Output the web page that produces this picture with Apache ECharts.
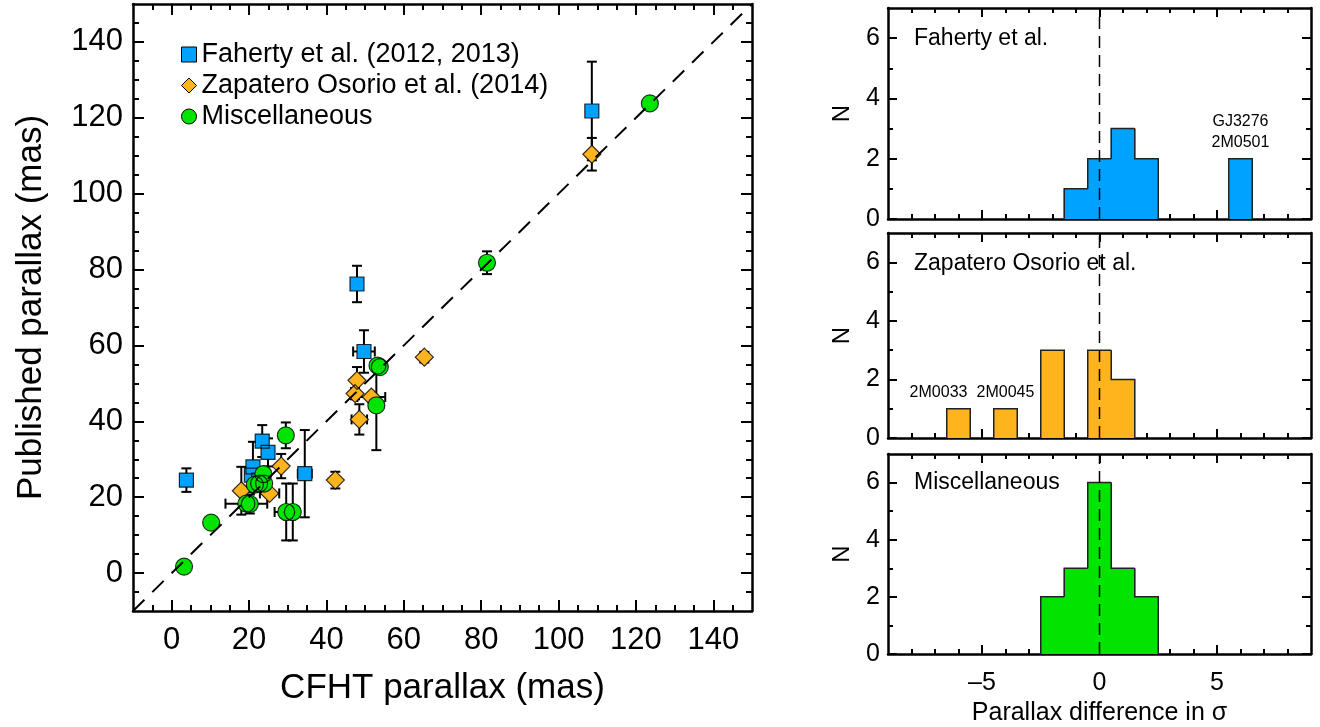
<!DOCTYPE html>
<html>
<head>
<meta charset="utf-8">
<title>Parallax comparison</title>
<script src="https://cdn.jsdelivr.net/npm/echarts@6/dist/echarts.min.js"></script>
<style>
  html, body { margin: 0; padding: 0; background: #fff; }
  #chart { width: 1320px; height: 727px; }
</style>
</head>
<body>
<div id="chart"></div>
<script>
// ---- Scatter data: CFHT vs published parallaxes (mas) ----
const fahertyCFHT    = [3.8, 23.4, 24.9, 21.0, 20.6, 22.5, 34.4, 47.9, 49.7, 108.6];
const fahertyPub     = [24.5, 34.8, 31.8, 28.0, 25.8, 24.5, 26.2, 76.2, 58.4, 121.8];
const fahertyCFHTErr = [0, 0, 0, 0, 0, 0, 1.8, 0, 2.8, 0];
const fahertyPubErr  = [3.1, 4.2, 3.7, 6.6, 3.0, 2.0, 11.5, 4.8, 5.6, 13.0];

const zapCFHT    = [108.6, 65.3, 47.9, 47.4, 51.6, 48.5, 42.3, 28.3, 18.0, 25.3];
const zapPub     = [110.4, 56.9, 50.8, 47.3, 46.4, 40.5, 24.5, 28.2, 21.7, 21.0];
const zapCFHTErr = [0, 0, 0, 0, 3.6, 2.0, 0, 0, 0, 2.5];
const zapPubErr  = [4.3, 1.4, 3.5, 1.5, 0, 4.0, 2.2, 3.2, 6.3, 0];

const miscCFHT    = [3.2, 10.2, 19.3, 20.2, 21.5, 22.6, 23.9, 23.7, 29.5, 29.6, 31.3, 52.9, 53.2, 53.8, 81.5, 123.6];
const miscPub     = [1.7, 13.3, 18.3, 18.2, 23.3, 23.6, 23.6, 26.1, 36.3, 16.1, 16.1, 44.2, 54.7, 54.3, 81.8, 123.8];
const miscCFHTErr = [0, 0, 5.4, 0, 0, 0, 0, 0, 0, 3.0, 0, 0, 0, 0, 0, 0];
const miscPubErr  = [0, 0, 0, 2.5, 0, 0, 0, 0, 3.4, 7.5, 7.5, 11.8, 0, 0, 3.0, 0];

// ---- Histograms of parallax difference (sigma), bins of width 1 ----
const fahertyBins   = [-1, 0, 1, 2, 6];
const fahertyCounts = [1, 2, 3, 2, 2];
const zapBins       = [-6, -4, -2, 0, 1];
const zapCounts     = [1, 1, 3, 3, 2];
const miscBins      = [-2, -1, 0, 1, 2];
const miscCounts    = [2, 3, 6, 3, 2];

// Object names written above outlying bins
const fahertyNotes = [{ x: 6, n: 2, text: 'GJ3276\n2M0501' }];
const zapNotes     = [{ x: -6.85, n: 1, text: '2M0033' }, { x: -4, n: 1, text: '2M0045' }];
const miscNotes    = [];

// ---- Tick values ----
const scatterMajorTicks = [0, 20, 40, 60, 80, 100, 120, 140];
const scatterMinorTicks = [-5, 5, 10, 15, 25, 30, 35, 45, 50, 55, 65, 70, 75, 85, 90, 95, 105, 110, 115, 125, 130, 135, 145];
const histXMajorTicks = [-5, 0, 5];
const histXMinorTicks = [-8, -7, -6, -4, -3, -2, -1, 1, 2, 3, 4, 6, 7, 8];
const histYMajorTicks = [0, 2, 4, 6];
const histYMinorTicks = [1, 3, 5];

const FONT = '"Liberation Sans", Arial, Helvetica, sans-serif';
const BLUE = '#00a2ff', ORANGE = '#ffb31c', GREEN = '#00e400';

const xAxes = [], yAxes = [];

// Four axes per side pair: labelled major ticks, minor ticks, and the mirrored pair on the opposite side.
function addAxes(list, dim, gridIndex, o) {
  const sides = dim === 'x' ? ['bottom', 'top'] : ['left', 'right'];
  const base = { type: 'value', gridIndex, min: o.min, max: o.max, splitLine: { show: false }, silent: true };
  const tickStyle = { color: '#000', width: 2 };
  const first = list.length;
  sides.forEach((pos, k) => {
    list.push(Object.assign({}, base, {
      position: pos,
      axisLine: { show: true, onZero: false, lineStyle: { color: '#000', width: 2.5 } },
      axisTick: { show: true, inside: true, length: o.majorLen, customValues: o.majors, lineStyle: tickStyle },
      axisLabel: k === 0 && o.labels ? {
        show: true, customValues: o.majors, margin: o.margin, color: '#000',
        fontSize: o.fontSize, fontFamily: FONT,
        formatter: v => (v < 0 ? '\u2013' + Math.abs(v) : String(v))
      } : { show: false },
      name: k === 0 ? o.name : '',
      nameLocation: 'middle',
      nameGap: o.nameGap,
      nameTextStyle: { color: '#000', fontSize: o.nameSize, fontFamily: FONT }
    }));
    list.push(Object.assign({}, base, {
      position: pos,
      axisLine: { show: false, onZero: false },
      axisTick: { show: true, inside: true, length: o.minorLen, customValues: o.minors, lineStyle: tickStyle },
      axisLabel: { show: false }
    }));
  });
  return first;
}

const grids = [
  { left: 133, top: 4, width: 619, height: 607 },
  { left: 888, top: 8, width: 423, height: 211 },
  { left: 888, top: 233, width: 423, height: 205 },
  { left: 888, top: 454, width: 423, height: 203 }
];

const sx = addAxes(xAxes, 'x', 0, {
  min: -10, max: 150, majors: scatterMajorTicks, minors: scatterMinorTicks,
  majorLen: 11, minorLen: 6, labels: true, margin: 14, fontSize: 31,
  name: 'CFHT parallax (mas)', nameGap: 60, nameSize: 35
});
const sy = addAxes(yAxes, 'y', 0, {
  min: -10, max: 150, majors: scatterMajorTicks, minors: scatterMinorTicks,
  majorLen: 11, minorLen: 6, labels: true, margin: 10, fontSize: 31,
  name: 'Published parallax (mas)', nameGap: 84, nameSize: 35
});

const hx = [], hy = [];
for (let p = 0; p < 3; p++) {
  const last = p === 2;
  hx.push(addAxes(xAxes, 'x', p + 1, {
    min: -9, max: 9, majors: histXMajorTicks, minors: histXMinorTicks,
    majorLen: 9, minorLen: 5, labels: last, margin: 17, fontSize: 25,
    name: last ? 'Parallax difference in \u03c3' : '', nameGap: 47, nameSize: 25
  }));
  hy.push(addAxes(yAxes, 'y', p + 1, {
    min: 0, max: 7, majors: histYMajorTicks, minors: histYMinorTicks,
    majorLen: 9, minorLen: 5, labels: true, margin: 8, fontSize: 25,
    name: 'N', nameGap: 34, nameSize: 24
  }));
}

function zip(a, b, c, d) { return a.map((v, i) => [v, b[i], c[i], d[i]]); }

function errorBarSeries(data) {
  return {
    type: 'custom', xAxisIndex: sx, yAxisIndex: sy, silent: true,
    renderItem: (params, api) => {
      const x = api.value(0), y = api.value(1), ex = api.value(2), ey = api.value(3);
      const children = [];
      const style = { stroke: '#000', lineWidth: 2 };
      const cap = 5;
      if (ey > 0) {
        const a = api.coord([x, y - ey]), b = api.coord([x, y + ey]);
        children.push({ type: 'line', shape: { x1: a[0], y1: a[1], x2: b[0], y2: b[1] }, style });
        children.push({ type: 'line', shape: { x1: a[0] - cap, y1: a[1], x2: a[0] + cap, y2: a[1] }, style });
        children.push({ type: 'line', shape: { x1: b[0] - cap, y1: b[1], x2: b[0] + cap, y2: b[1] }, style });
      }
      if (ex > 0) {
        const a = api.coord([x - ex, y]), b = api.coord([x + ex, y]);
        children.push({ type: 'line', shape: { x1: a[0], y1: a[1], x2: b[0], y2: b[1] }, style });
        children.push({ type: 'line', shape: { x1: a[0], y1: a[1] - cap, x2: a[0], y2: a[1] + cap }, style });
        children.push({ type: 'line', shape: { x1: b[0], y1: b[1] - cap, x2: b[0], y2: b[1] + cap }, style });
      }
      return { type: 'group', children };
    },
    data
  };
}

// Filled markers first, outlines afterwards, so overlapping outlines stay visible
function markerSeries(name, xs, ys, symbol, size, color) {
  const pts = xs.map((v, i) => [v, ys[i]]);
  return [
    { name, type: 'scatter', xAxisIndex: sx, yAxisIndex: sy, symbol, symbolSize: size, silent: true,
      itemStyle: { color, borderWidth: 0, opacity: 1 }, data: pts },
    { type: 'scatter', xAxisIndex: sx, yAxisIndex: sy, symbol, symbolSize: size, silent: true,
      itemStyle: { color: 'rgba(0,0,0,0)', borderColor: '#000', borderWidth: 1.2 }, data: pts }
  ];
}

function histSeries(p, bins, counts, color, notes) {
  const xi = hx[p], yi = hy[p];
  const outline = bins.map((c, i) => {
    const left = (i > 0 && bins[i - 1] === c - 1) ? counts[i - 1] : 0;
    const hasRight = (i < bins.length - 1 && bins[i + 1] === c + 1) ? 1 : 0;
    return [c, counts[i], left, hasRight];
  });
  return [
    { type: 'custom', xAxisIndex: xi, yAxisIndex: yi, silent: true,
      renderItem: (params, api) => {
        const c = api.value(0), n = api.value(1);
        const a = api.coord([c - 0.5, n]), b = api.coord([c + 0.5, 0]);
        // widen slightly so neighbouring bins join without a seam
        return { type: 'rect', shape: { x: a[0] - 0.6, y: a[1], width: b[0] - a[0] + 1.2, height: b[1] - a[1] },
                 style: { fill: color } };
      },
      data: bins.map((c, i) => [c, counts[i]]) },
    { type: 'custom', xAxisIndex: xi, yAxisIndex: yi, silent: true,
      renderItem: (params, api) => {
        const c = api.value(0), n = api.value(1), left = api.value(2), hasRight = api.value(3);
        const style = { stroke: '#222', lineWidth: 1.5, fill: null };
        const p0 = api.coord([c - 0.5, left]), p1 = api.coord([c - 0.5, n]);
        const p2 = api.coord([c + 0.5, n]), p3 = api.coord([c + 0.5, 0]);
        const pts = hasRight ? [p0, p1, p2] : [p0, p1, p2, p3];
        return { type: 'polyline', shape: { points: pts }, style };
      },
      data: outline },
    { type: 'line', xAxisIndex: xi, yAxisIndex: yi, silent: true, symbol: 'none',
      lineStyle: { color: '#000', width: 1.5, type: [12, 7] },
      data: [[0, 0], [0, 7]] },
    { type: 'custom', xAxisIndex: xi, yAxisIndex: yi, silent: true,
      renderItem: (params, api) => {
        const note = notes[params.dataIndex];
        const pt = api.coord([note.x, note.n]);
        return { type: 'text', x: pt[0], y: pt[1] - 6,
                 style: { text: note.text, fill: '#000', font: '16px ' + FONT, align: 'center',
                          verticalAlign: 'bottom', lineHeight: 21 } };
      },
      data: notes.map(n => [n.x, n.n]) }
  ];
}

const series = [
  { type: 'line', xAxisIndex: sx, yAxisIndex: sy, silent: true, symbol: 'none',
    lineStyle: { color: '#000', width: 2, type: [16, 11] }, data: [[-10, -10], [150, 150]] },
  errorBarSeries(zip(fahertyCFHT, fahertyPub, fahertyCFHTErr, fahertyPubErr)),
  ...markerSeries('Faherty et al. (2012, 2013)', fahertyCFHT, fahertyPub, 'rect', 14, BLUE),
  errorBarSeries(zip(zapCFHT, zapPub, zapCFHTErr, zapPubErr)),
  ...markerSeries('Zapatero Osorio et al. (2014)', zapCFHT, zapPub, 'diamond', 18, ORANGE),
  errorBarSeries(zip(miscCFHT, miscPub, miscCFHTErr, miscPubErr)),
  ...markerSeries('Miscellaneous', miscCFHT, miscPub, 'circle', 17, GREEN),
  ...histSeries(0, fahertyBins, fahertyCounts, BLUE, fahertyNotes),
  ...histSeries(1, zapBins, zapCounts, ORANGE, zapNotes),
  ...histSeries(2, miscBins, miscCounts, GREEN, miscNotes)
];

const panelTitle = (text, top) => ({
  text, left: 914, top, padding: 0,
  textStyle: { color: '#000', fontSize: 23, fontWeight: 'normal', fontFamily: FONT }
});

const legendBorder = { borderColor: '#000', borderWidth: 1 };

const option = {
  animation: false,
  backgroundColor: '#fff',
  grid: grids,
  xAxis: xAxes,
  yAxis: yAxes,
  title: [
    panelTitle('Faherty et al.', 27),
    panelTitle('Zapatero Osorio et al.', 252),
    panelTitle('Miscellaneous', 471)
  ],
  legend: {
    orient: 'vertical', left: 176, top: 36, itemGap: 4, itemWidth: 15, itemHeight: 15,
    selectedMode: false,
    textStyle: { color: '#000', fontSize: 27, fontFamily: FONT, lineHeight: 27 },
    data: [
      { name: 'Faherty et al. (2012, 2013)', icon: 'rect', itemStyle: legendBorder },
      { name: 'Zapatero Osorio et al. (2014)', icon: 'diamond', itemStyle: legendBorder },
      { name: 'Miscellaneous', icon: 'circle', itemStyle: legendBorder }
    ]
  },
  series
};

const chart = echarts.init(document.getElementById('chart'), null, { renderer: 'canvas' });
chart.setOption(option);
</script>
</body>
</html>
